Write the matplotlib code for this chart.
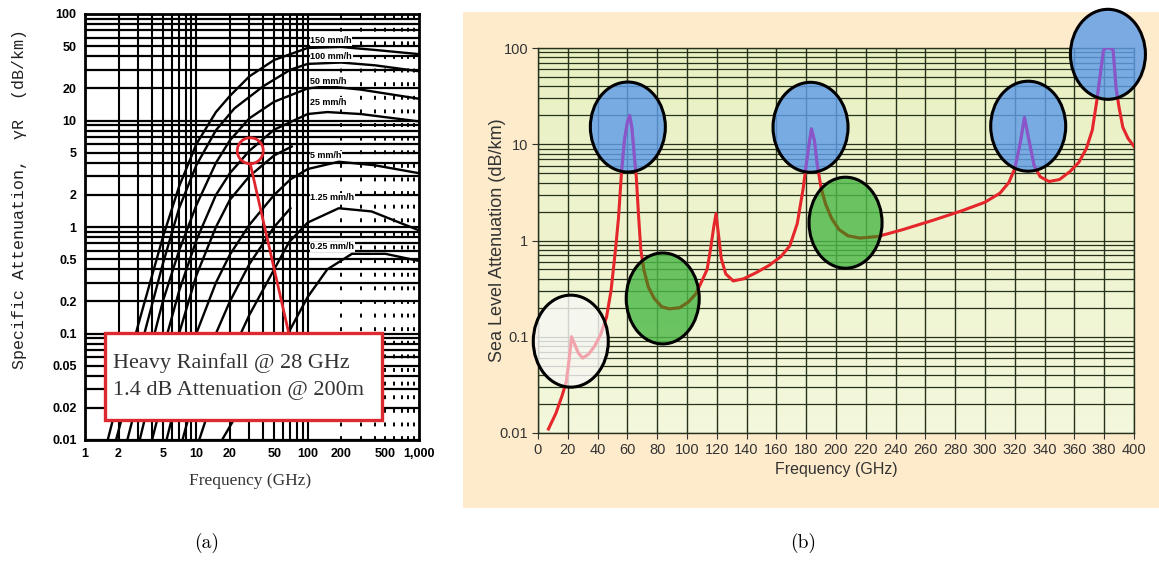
import matplotlib
matplotlib.use("Agg")
import matplotlib.pyplot as plt
import numpy as np
from matplotlib.patches import Ellipse, Rectangle
from matplotlib.transforms import ScaledTranslation
from matplotlib.ticker import FixedLocator, NullFormatter
from matplotlib.colors import to_rgba

# ---------------- panel (a): rain attenuation curves ----------------
f_150 = [1.6, 2, 3, 5, 7, 10, 15, 20, 30, 50, 100, 200, 400, 1000]
a_150 = [0.01, 0.025, 0.12, 0.8, 2.4, 6, 12, 17, 26, 37, 48, 49, 46, 42]
f_100 = [1.9, 3, 5, 7, 10, 15, 22, 40, 70, 100, 200, 400, 1000]
a_100 = [0.01, 0.06, 0.45, 1.5, 3.8, 8.1, 13, 21, 30, 34, 35, 33, 29]
f_50 = [2.4, 3, 5, 7, 10, 15, 20, 30, 50, 100, 150, 300, 1000]
a_50 = [0.01, 0.025, 0.2, 0.6, 1.6, 4, 6.5, 10.5, 15, 20, 21, 19.5, 16]
f_25 = [3.1, 4, 5, 7, 10, 15, 20, 30, 50, 100, 150, 300, 1000]
a_25 = [0.01, 0.03, 0.07, 0.25, 0.75, 2.0, 3.2, 5.2, 8.2, 11.5, 12, 11.5, 9.8]
f_12 = [4, 5, 7, 10, 15, 20, 30, 50, 72]
a_12 = [0.01, 0.025, 0.1, 0.35, 1.0, 1.8, 3.0, 4.7, 5.7]
f_5 = [5.4, 7, 10, 15, 20, 30, 50, 70, 100, 190, 400, 1000]
a_5 = [0.01, 0.03, 0.1, 0.3, 0.55, 1.05, 2.0, 2.8, 3.5, 4.1, 3.8, 3.2]
f_2 = [7.5, 10, 15, 20, 30, 50, 70]
a_2 = [0.01, 0.03, 0.1, 0.2, 0.45, 1.0, 1.5]
f_1 = [10.6, 15, 20, 30, 50, 68, 100, 190, 375, 1000]
a_1 = [0.01, 0.03, 0.06, 0.15, 0.4, 0.72, 1.1, 1.5, 1.4, 0.93]
f_q = [17, 25, 35, 50, 70, 100, 150, 250, 500, 1000]
a_q = [0.01, 0.02, 0.035, 0.06, 0.11, 0.22, 0.4, 0.56, 0.56, 0.48]

rain_curves = [(f_150, a_150), (f_100, a_100), (f_50, a_50), (f_25, a_25), (f_12, a_12),
               (f_5, a_5), (f_2, a_2), (f_1, a_1), (f_q, a_q)]
rate_labels = ["150 mm/h", "100 mm/h", "50 mm/h", "25 mm/h", "5 mm/h", "1.25 mm/h", "0.25 mm/h"]
rate_label_y = [56, 39.5, 23.4, 14.9, 4.7, 1.9, 0.65]

a_xticks = [1, 2, 5, 10, 20, 50, 100, 200, 500, 1000]
a_xlabels = ["1", "2", "5", "10", "20", "50", "100", "200", "500", "1,000"]
a_yticks = [0.01, 0.02, 0.05, 0.1, 0.2, 0.5, 1, 2, 5, 10, 20, 50, 100]
a_ylabels = ["0.01", "0.02", "0.05", "0.1", "0.2", "0.5", "1", "2", "5", "10", "20", "50", "100"]

# ---------------- panel (b): sea level atmospheric attenuation ----------------
freq_b = [7, 12, 16, 19, 21, 22.5, 24, 27, 30, 34, 38, 42, 46, 49, 52, 54, 56, 58, 60,
          61.5, 63, 64.5, 66, 67.5, 69, 71, 74, 78, 83, 88, 95, 101, 106, 110, 113.5, 116,
          118, 119.5, 121, 123, 126, 131, 138, 146, 155, 163, 169, 174, 178, 181, 183.5,
          185.5, 187.5, 190, 193, 197, 202, 208, 216, 228, 245, 265, 285, 300, 310, 316,
          320, 323.5, 326.5, 329.5, 333, 337, 343, 350, 357, 363, 368, 372, 375, 377.5,
          379.5, 381, 384, 386, 388, 390, 392.5, 396, 400]
atten_b = [0.011, 0.016, 0.024, 0.034, 0.06, 0.1, 0.088, 0.068, 0.06, 0.066, 0.08, 0.105,
           0.16, 0.3, 0.8, 1.7, 5, 11, 17, 20, 15, 8, 4.5, 1.8, 0.8, 0.5, 0.33, 0.25, 0.205,
           0.195, 0.2, 0.23, 0.28, 0.38, 0.5, 0.85, 1.4, 1.9, 1.2, 0.65, 0.45, 0.38, 0.4,
           0.46, 0.55, 0.68, 0.88, 1.5, 3.5, 8, 14.5, 11, 6, 3.5, 2.4, 1.7, 1.3, 1.12, 1.06,
           1.1, 1.3, 1.62, 2.05, 2.5, 3.1, 4, 5.6, 10, 19, 11, 6, 4.6, 4.1, 4.3, 5.2, 6.5, 9,
           14, 28, 55, 95, 100, 100, 95, 38, 24, 15, 11.5, 9.5]

blob_freq = [22, 60.3, 83.7, 182.9, 206.4, 329, 382.5]
blob_att = [0.09, 15.1, 0.25, 15, 1.53, 15.4, 86]
blob_kind = ["white", "blue", "green", "blue", "green", "blue", "blue"]

b_xticks = list(range(0, 401, 20))
b_yticks = [0.01, 0.1, 1, 10, 100]
b_ylabels = ["0.01", "0.1", "1", "10", "100"]

W, H = 1159, 563
fig = plt.figure(figsize=(W / 100, H / 100), dpi=100)
fig.patch.set_facecolor("white")


def fx(px):
    return px / W


def fy(py):
    return 1 - py / H


# ======================= panel (a) =======================
ax1 = fig.add_axes([fx(85), fy(440), fx(419) - fx(85), fy(14) - fy(440)])
ax1.set_xscale("log")
ax1.set_yscale("log")
ax1.set_xlim(1, 1000)
ax1.set_ylim(0.01, 100)

# heavy scanned-chart grid
hgrid = [k * 10.0 ** d for d in range(-2, 2) for k in range(1, 10)] + [100]
ax1.hlines(hgrid, 1, 1000, colors="black", lw=1.6, zorder=1)
vsolid = [k * 10.0 ** d for d in range(0, 2) for k in range(1, 10)] + [100]
ax1.vlines(vsolid, 0.01, 100, colors="black", lw=1.5, zorder=1)
vdash = [k * 100.0 for k in range(2, 10)]
ax1.vlines(vdash, 0.01, 100, colors="black", lw=1.4, linestyles=(0, (2, 5)), zorder=1)

for f, a in rain_curves:
    ax1.plot(f, a, color="black", lw=1.7, zorder=3)

for lab, yv in zip(rate_labels, rate_label_y):
    ax1.text(106, yv, lab, fontsize=6.5, fontweight="bold", family="Liberation Sans",
             va="center", ha="left", zorder=4,
             bbox=dict(facecolor="white", edgecolor="none", pad=0.2))

# red marker circle and leader line
tr_c = fig.dpi_scale_trans + ScaledTranslation(30.5, 5.2, ax1.transData)
ax1.add_patch(Ellipse((0, 0), 0.26, 0.26, transform=tr_c, fill=False,
                      edgecolor="#E0262C", lw=2, zorder=6, clip_on=False))
ax1.plot([30.5, 67.6], [3.93, 0.101], color="#E0262C", lw=2, zorder=6)

ax1.xaxis.set_major_locator(FixedLocator(a_xticks))
ax1.set_xticklabels(a_xlabels)
ax1.xaxis.set_minor_formatter(NullFormatter())
ax1.yaxis.set_major_locator(FixedLocator(a_yticks))
ax1.set_yticklabels(a_ylabels)
ax1.yaxis.set_minor_formatter(NullFormatter())
ax1.tick_params(which="both", length=0, pad=6)
for t in ax1.get_xticklabels() + ax1.get_yticklabels():
    t.set_fontfamily("Liberation Sans")
    t.set_fontweight("bold")
    t.set_fontsize(9)
for s in ax1.spines.values():
    s.set_linewidth(2)

fig.text(fx(20), fy(199), "Specific Attenuation,  \u03b3R  (dB/km)", rotation=90,
         family="Liberation Mono", fontsize=12, ha="center", va="center", color="#222222")
fig.text(fx(250), fy(481), "Frequency (GHz)", family="Liberation Serif", fontsize=12.5,
         ha="center", va="center", color="#333333")

# annotation box
fig.add_artist(Rectangle((fx(105), fy(420)), fx(382) - fx(105), fy(333) - fy(420),
                         transform=fig.transFigure, facecolor="white", edgecolor="#DD2A30",
                         lw=2.4, zorder=10))
fig.text(fx(113), fy(363), "Heavy Rainfall @ 28 GHz", family="Liberation Serif",
         fontsize=16, color="#333333", va="center", ha="left", zorder=11)
fig.text(fx(113), fy(391), "1.4 dB Attenuation @ 200m", family="Liberation Serif",
         fontsize=16, color="#333333", va="center", ha="left", zorder=11)

# ======================= panel (b) =======================
fig.add_artist(Rectangle((fx(463), fy(508)), fx(W) - fx(463), fy(12) - fy(508),
                         transform=fig.transFigure, facecolor="#FDEBCB", edgecolor="none",
                         zorder=0))

ax2 = fig.add_axes([fx(538), fy(433), fx(1134) - fx(538), fy(48) - fy(433)])
ax2.set_yscale("log")
ax2.set_xlim(0, 400)
ax2.set_ylim(0.01, 100)
grad = np.linspace(0, 1, 100).reshape(-1, 1)
cmap = matplotlib.colors.LinearSegmentedColormap.from_list("bg", ["#F4F8DC", "#E9F0C2"])
ax2.imshow(grad, extent=[0, 1, 0, 1], transform=ax2.transAxes, aspect="auto",
           cmap=cmap, origin="lower", zorder=0)

grid_col = "#27321d"
ax2.vlines(b_xticks, 0.01, 100, colors=grid_col, lw=1.0, zorder=1)
hgrid_b = [k * 10.0 ** d for d in range(-2, 2) for k in range(1, 10)] + [100]
ax2.hlines(hgrid_b, 0, 400, colors=grid_col, lw=0.9, zorder=1)

ax2.plot(freq_b, atten_b, color="#E5262B", lw=2.2, zorder=3, solid_joinstyle="round")

kind_style = {
    "white": ("#F7F7F3", "#F2A4AD", 0.75, 0.92),
    "blue": ("#5E9CE8", "#8A55C8", 0.75, 0.90),
    "green": ("#4DB848", "#6E6A1C", 0.73, 0.91),
}
for f, a, k in zip(blob_freq, blob_att, blob_kind):
    face, inner, w, h = kind_style[k]
    tr = fig.dpi_scale_trans + ScaledTranslation(f, a, ax2.transData)
    fill = Ellipse((0, 0), w, h, transform=tr, facecolor=to_rgba(face, 0.82),
                   edgecolor="none", zorder=4, clip_on=False)
    ax2.add_patch(fill)
    ln, = ax2.plot(freq_b, atten_b, color=inner, lw=2.2, zorder=5)
    ln.set_clip_path(fill)
    ax2.add_patch(Ellipse((0, 0), w, h, transform=tr, fill=False, edgecolor="black",
                          lw=2.2, zorder=6, clip_on=False))

ax2.set_xticks(b_xticks)
ax2.yaxis.set_major_locator(FixedLocator(b_yticks))
ax2.set_yticklabels(b_ylabels)
ax2.yaxis.set_minor_formatter(NullFormatter())
ax2.tick_params(which="major", direction="out", length=4, color="#333333", pad=3,
                labelsize=10.5, labelcolor="#333333")
ax2.tick_params(which="minor", length=0)
for t in ax2.get_xticklabels() + ax2.get_yticklabels():
    t.set_fontfamily("Liberation Sans")
for s in ax2.spines.values():
    s.set_color(grid_col)
    s.set_linewidth(1.0)
ax2.set_xlabel("Frequency (GHz)", family="Liberation Sans", fontsize=11.5,
               color="#333333", labelpad=4)
fig.text(fx(497), fy(240), "Sea Level Attenuation (dB/km)", rotation=90,
         family="Liberation Sans", fontsize=13, color="#333333", ha="center", va="center")

# captions
fig.text(fx(207), fy(543), "(a)", family="cmr10", fontsize=14, ha="center", va="center")
fig.text(fx(803), fy(543), "(b)", family="cmr10", fontsize=14, ha="center", va="center")

fig.savefig("out.png", dpi=100)
